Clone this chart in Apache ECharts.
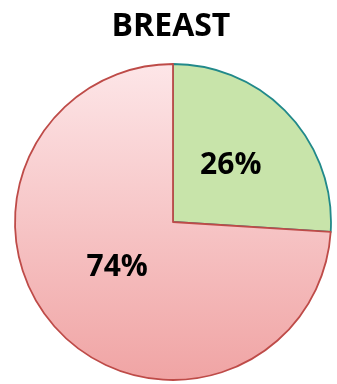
<!DOCTYPE html>
<html><head><meta charset="utf-8">
<script src="https://cdn.jsdelivr.net/npm/echarts@6/dist/echarts.min.js"></script>
<style>html,body{margin:0;padding:0;background:#fff}#c{width:337px;height:384px}</style>
</head><body><div id="c"></div>
<script>
const title = "BREAST";
const categories = ["Yes", "No"];
const values = [26, 74];

const chart = echarts.init(document.getElementById('c'), null, {renderer: 'canvas'});
const styles = [
  {color: '#c8e4aa', borderColor: '#21898a', borderWidth: 1.8},
  {color: new echarts.graphic.LinearGradient(0, 0, 0, 1, [
      {offset: 0, color: '#fde6e8'},
      {offset: 1, color: '#f0a4a4'}]),
   borderColor: '#be4b48', borderWidth: 1.8}
];
const labelOffsets = [[-2, 0], [4, -11]];
chart.setOption({
  animation: false,
  title: {text: title, left: 166, top: 6, textAlign: 'center',
    textStyle: {fontFamily: 'Open Sans', fontWeight: 'bold', fontSize: 32, color: '#000'}},
  series: [{
    type: 'pie',
    center: [173, 222],
    radius: [0, 158],
    startAngle: 90,
    clockwise: true,
    label: {show: true, position: 'inside', formatter: p => p.value + '%',
      fontFamily: 'Open Sans', fontWeight: 'bold', fontSize: 30, color: '#000'},
    labelLine: {show: false},
    emphasis: {disabled: true},
    data: categories.map((c, i) => ({name: c, value: values[i], itemStyle: styles[i],
      label: {offset: labelOffsets[i]}}))
  }]
});
</script></body></html>
